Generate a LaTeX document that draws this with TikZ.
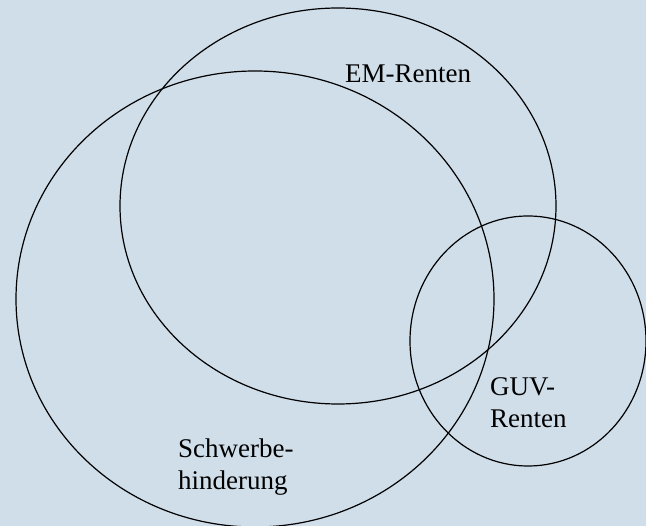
\documentclass[tikz,border=0pt]{standalone}
\usepackage{fontspec}
\setmainfont{Liberation Serif}
\usepackage{xcolor}
\definecolor{colorBack}{RGB}{208,222,234}
\usepackage{tikz}
\usetikzlibrary{shapes.geometric, positioning}
\tikzset{set/.style={ellipse, draw=black, line width=1.2pt, inner sep=0pt},
         label text/.style={anchor=base west, align=left, inner sep=0pt,
                            font=\fontsize{27}{32}\selectfont}}

\begin{document}
\begin{tikzpicture}[x=1pt, y=-1pt]
\fill[colorBack] (0,0) rectangle (646,526);
\useasboundingbox (0,0) rectangle (646,526);
\node[set, minimum width=436pt, minimum height=396pt] (em) at (338,206) {};
\node[set, minimum width=478pt, minimum height=456pt] (sb) at (255,299) {};
\node[set, minimum width=236pt, minimum height=250pt] (guv) at (528,341) {};
\node[label text] (emText) at (345,83) {EM-Renten};
\node[label text] (guvText) at (490,428) {GUV-\\Renten};
\node[label text] (sbText) at (178,490) {Schwerbe-\\hinderung};
\end{tikzpicture}
\end{document}
